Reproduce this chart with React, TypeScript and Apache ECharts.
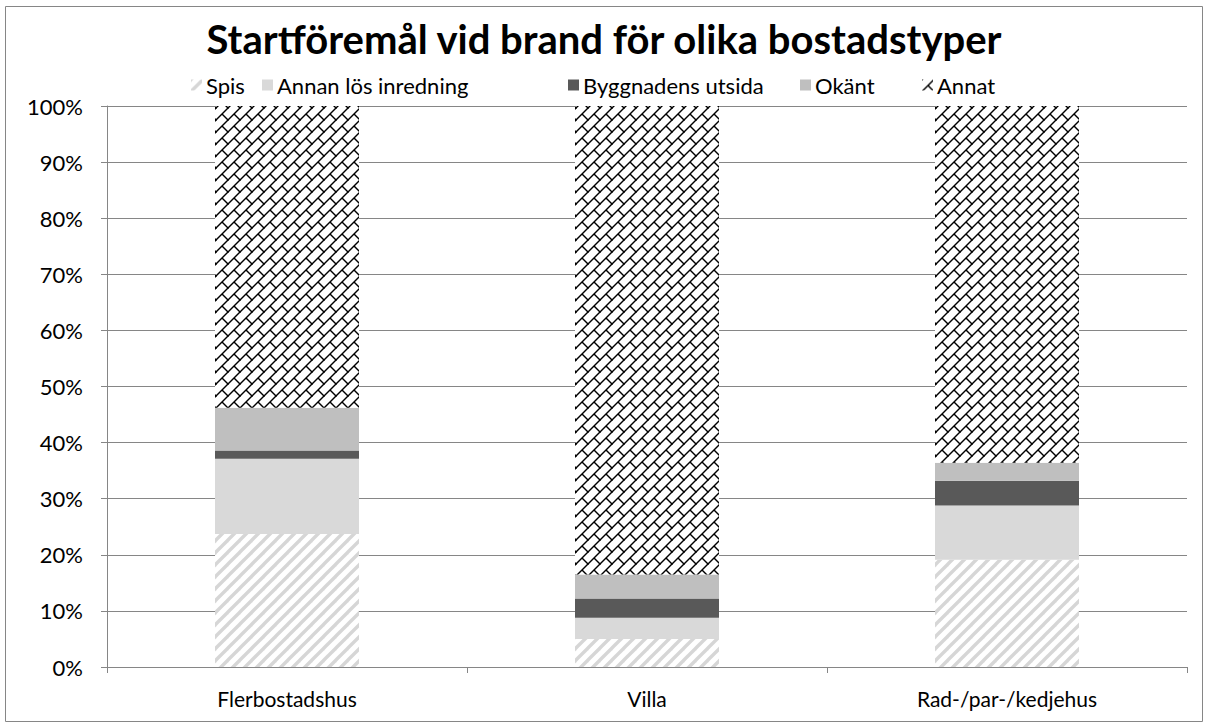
import React, { useEffect, useRef } from "react";
import * as echarts from "echarts";

// Categories and stacked shares (percent of fires per housing type)
const categories = ["Flerbostadshus", "Villa", "Rad-/par-/kedjehus"];
const spis = [23.7, 5.0, 19.1];
const annanLos = [13.4, 3.8, 9.7];
const byggnadensUtsida = [1.5, 3.4, 4.4];
const okant = [7.6, 4.3, 3.2];
const annat = [53.8, 83.5, 63.6];

const seriesNames = ["Spis", "Annan lös inredning", "Byggnadens utsida", "Okänt", "Annat"];
const legendLeft = [186, 257, 563, 795, 917];

const FONT = "Lato, 'Open Sans', sans-serif";
const AXIS_GREY = "#868686";

// Light grey wide upward diagonal stripes
function stripePattern(): string {
  const s = 12;
  const c = document.createElement("canvas");
  c.width = s;
  c.height = s;
  const ctx = c.getContext("2d")!;
  ctx.fillStyle = "#ffffff";
  ctx.fillRect(0, 0, s, s);
  ctx.strokeStyle = "#d6d6d6";
  ctx.lineWidth = 3.4;
  for (const off of [-s, 0, s]) {
    ctx.beginPath();
    ctx.moveTo(off - 2, s + 2);
    ctx.lineTo(off + s + 2, -2);
    ctx.stroke();
  }
  return c.toDataURL("image/png");
}

// Black diagonal brick pattern
function brickPattern(): string {
  const s = 12;
  const c = document.createElement("canvas");
  c.width = s;
  c.height = s;
  const ctx = c.getContext("2d")!;
  ctx.fillStyle = "#ffffff";
  ctx.fillRect(0, 0, s, s);
  ctx.strokeStyle = "#000000";
  ctx.lineWidth = 1.4;
  for (const off of [-s, 0, s]) {
    ctx.beginPath();
    ctx.moveTo(off - 1, s + 1);
    ctx.lineTo(off + s + 1, -1);
    ctx.stroke();
  }
  for (const [ox, oy] of [[0, 0], [-s, -s], [s, s], [-s, 0], [0, -s]]) {
    ctx.beginPath();
    ctx.moveTo(ox + s / 2, oy + s / 2);
    ctx.lineTo(ox + s + 0.5, oy + s + 0.5);
    ctx.stroke();
  }
  return c.toDataURL("image/png");
}

export default function App() {
  const ref = useRef<HTMLDivElement>(null);

  useEffect(() => {
    document.body.style.margin = "0";
    const chart = echarts.init(ref.current!, undefined, { renderer: "svg" });

    const spisFill: any = { image: stripePattern(), repeat: "repeat", imageWidth: 12, imageHeight: 12 };
    const annatFill: any = { image: brickPattern(), repeat: "repeat", imageWidth: 12, imageHeight: 12 };

    const colors: any[] = [spisFill, "#d9d9d9", "#595959", "#bfbfbf", annatFill];
    const values = [spis, annanLos, byggnadensUtsida, okant, annat];

    chart.setOption({
      animation: false,
      backgroundColor: "#ffffff",
      title: {
        text: "Startföremål vid brand för olika bostadstyper",
        left: "center",
        top: 14,
        textStyle: { fontFamily: FONT, fontSize: 40, fontWeight: "bold", color: "#000" },
      },
      legend: seriesNames.map((n, i) => ({
        data: [n],
        left: legendLeft[i],
        top: 69,
        itemWidth: 11,
        itemHeight: 11,
        itemGap: 4,
        icon: "rect",
        textStyle: { fontFamily: FONT, fontSize: 22, color: "#000", padding: [0, 0, 0, -1] },
      })),
      grid: { left: 107, right: 21, top: 106, bottom: 60, containLabel: false },
      xAxis: {
        type: "category",
        data: categories,
        axisLine: { lineStyle: { color: AXIS_GREY, width: 1 } },
        axisTick: { show: true, length: 6, lineStyle: { color: AXIS_GREY } },
        axisLabel: { margin: 21, fontFamily: FONT, fontSize: 21, color: "#000" },
      },
      yAxis: {
        type: "value",
        min: 0,
        max: 100,
        interval: 10,
        axisLine: { show: true, lineStyle: { color: AXIS_GREY, width: 1 } },
        axisTick: { show: true, length: 6, lineStyle: { color: AXIS_GREY } },
        axisLabel: { formatter: "{value}%", margin: 24, fontFamily: FONT, fontSize: 22, color: "#000" },
        splitLine: { show: true, lineStyle: { color: AXIS_GREY, width: 1 } },
      },
      graphic: [
        {
          type: "rect",
          shape: { x: 5.5, y: 6.5, width: 1197, height: 715 },
          style: { fill: "none", stroke: AXIS_GREY, lineWidth: 1 },
          silent: true,
          z: -10,
        },
      ],
      series: seriesNames.map((n, i) => ({
        name: n,
        type: "bar",
        stack: "total",
        barWidth: "40%",
        data: values[i],
        itemStyle: { color: colors[i] },
      })),
    });

    return () => chart.dispose();
  }, []);

  return <div ref={ref} style={{ width: 1208, height: 727 }} />;
}
